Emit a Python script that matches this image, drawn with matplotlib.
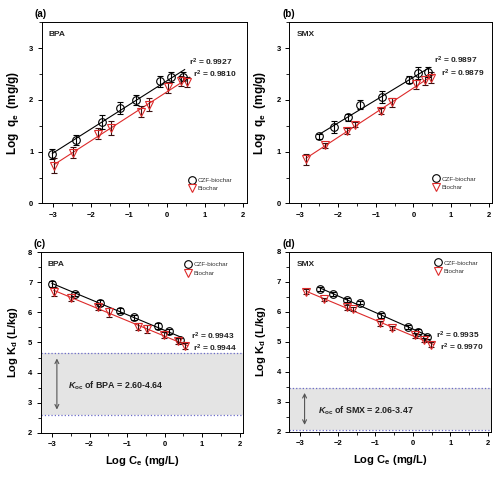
import numpy as np
import matplotlib
matplotlib.use("Agg")
import matplotlib.pyplot as plt
from matplotlib.ticker import MultipleLocator
from matplotlib.lines import Line2D

plt.rcParams['font.family'] = ['Liberation Sans', 'DejaVu Sans']
plt.rcParams['font.weight'] = 'bold'
plt.rcParams['mathtext.fontset'] = 'custom'
plt.rcParams['mathtext.rm'] = 'Liberation Sans:bold'
plt.rcParams['mathtext.it'] = 'Liberation Sans:style=italic:weight=bold'
plt.rcParams['mathtext.bf'] = 'Liberation Sans:bold'

# ---------------- data ----------------
# (a) BPA, log qe
a_czf_x = [-3.02, -2.40, -1.72, -1.23, -0.83, -0.19, 0.10, 0.41]
a_czf_y = [0.95, 1.22, 1.57, 1.84, 2.00, 2.36, 2.44, 2.45]
a_czf_e = [0.10, 0.10, 0.14, 0.12, 0.10, 0.11, 0.09, 0.08]
a_bio_x = [-2.97, -2.49, -1.81, -1.48, -0.70, -0.48, 0.03, 0.36, 0.51]
a_bio_y = [0.73, 0.98, 1.35, 1.46, 1.77, 1.91, 2.24, 2.36, 2.34]
a_bio_e = [0.14, 0.11, 0.10, 0.14, 0.11, 0.12, 0.10, 0.10, 0.10]

# (b) SMX, log qe
b_czf_x = [-2.50, -2.12, -1.74, -1.41, -0.84, -0.13, 0.13, 0.38]
b_czf_y = [1.30, 1.48, 1.66, 1.91, 2.06, 2.39, 2.52, 2.54]
b_czf_e = [0.05, 0.12, 0.06, 0.08, 0.12, 0.07, 0.11, 0.10]
b_bio_x = [-2.85, -2.36, -1.76, -1.56, -0.86, -0.56, 0.06, 0.31, 0.48]
b_bio_y = [0.85, 1.12, 1.40, 1.52, 1.78, 1.95, 2.30, 2.38, 2.43]
b_bio_e = [0.10, 0.05, 0.06, 0.05, 0.06, 0.09, 0.09, 0.09, 0.10]

# (c) BPA, log Kd
c_czf_x = [-3.00, -2.39, -1.71, -1.20, -0.81, -0.18, 0.12, 0.41]
c_czf_y = [6.94, 6.61, 6.31, 6.06, 5.84, 5.56, 5.37, 5.08]
c_czf_e = [0.10, 0.08, 0.10, 0.08, 0.08, 0.10, 0.08, 0.08]
c_bio_x = [-2.95, -2.49, -1.77, -1.47, -0.70, -0.47, -0.01, 0.36, 0.54]
c_bio_y = [6.69, 6.49, 6.17, 6.00, 5.52, 5.45, 5.26, 5.04, 4.88]
c_bio_e = [0.14, 0.11, 0.10, 0.14, 0.11, 0.12, 0.10, 0.10, 0.10]

# (d) SMX, log Kd
d_czf_x = [-2.48, -2.13, -1.75, -1.41, -0.84, -0.12, 0.15, 0.39]
d_czf_y = [6.75, 6.58, 6.38, 6.30, 5.88, 5.50, 5.34, 5.17]
d_czf_e = [0.06, 0.06, 0.06, 0.06, 0.08, 0.07, 0.07, 0.07]
d_bio_x = [-2.85, -2.37, -1.75, -1.59, -0.88, -0.56, 0.06, 0.31, 0.48]
d_bio_y = [6.66, 6.41, 6.14, 6.09, 5.62, 5.46, 5.21, 5.06, 4.90]
d_bio_e = [0.08, 0.06, 0.07, 0.06, 0.08, 0.08, 0.08, 0.08, 0.09]

r2_labels = {
    'a': ('0.9927', '0.9810'),
    'b': ('0.9897', '0.9879'),
    'c': ('0.9943', '0.9944'),
    'd': ('0.9935', '0.9970'),
}
koc_ranges = {'c': (2.60, 4.64), 'd': (2.06, 3.47)}
compounds = {'a': 'BPA', 'b': 'SMX', 'c': 'BPA', 'd': 'SMX'}
series_names = ['CZF-biochar', 'Biochar']

RED = '#dd2a2a'

fig = plt.figure(figsize=(5.03, 4.82), dpi=100)
pos = {
    'a': [0.083, 0.578, 0.408, 0.376],
    'b': [0.575, 0.578, 0.404, 0.376],
    'c': [0.081, 0.102, 0.403, 0.375],
    'd': [0.575, 0.104, 0.402, 0.374],
}

panels = {
    'a': (a_czf_x, a_czf_y, a_czf_e, a_bio_x, a_bio_y, a_bio_e),
    'b': (b_czf_x, b_czf_y, b_czf_e, b_bio_x, b_bio_y, b_bio_e),
    'c': (c_czf_x, c_czf_y, c_czf_e, c_bio_x, c_bio_y, c_bio_e),
    'd': (d_czf_x, d_czf_y, d_czf_e, d_bio_x, d_bio_y, d_bio_e),
}

r2_pos = {
    'a': [(0.58, 2.73), (0.67, 2.49)],
    'b': [(0.55, 2.77), (0.72, 2.52)],
    'c': [(0.69, 5.20), (0.75, 4.80)],
    'd': [(0.62, 5.22), (0.73, 4.80)],
}
leg_anchor = {'a': (0.69, 0.17), 'b': (0.68, 0.178), 'c': (0.685, 0.975), 'd': (0.694, 0.98)}
leg_spacing = {'a': 0.45, 'b': 0.45, 'c': 0.65, 'd': 0.55}

for key in ['a', 'b', 'c', 'd']:
    ax = fig.add_axes(pos[key])
    cx, cy, ce, bx, by, be = panels[key]
    cx, cy, bx, by = map(np.asarray, (cx, cy, bx, by))
    top = key in ('a', 'b')

    if not top:
        lo, hi = koc_ranges[key]
        ax.axhspan(lo, hi, color='#e4e4e4', zorder=0, lw=0)
        for yv in (lo, hi):
            ax.axhline(yv, color='#6a6ac8', ls=':', lw=0.9, zorder=1)
        ax_x = -2.87 if key == 'c' else -2.89
        ax.annotate('', xy=(ax_x, hi - 0.08), xytext=(ax_x, lo + 0.08),
                    arrowprops=dict(arrowstyle='<->', color='#555555', lw=0.8,
                                    mutation_scale=7))
        tx = -2.58 if key == 'c' else -2.54
        ty = (lo + hi) / 2 - 0.05
        ax.text(tx, ty, r'$\mathit{K}_{\mathrm{oc}}$' + f' of {compounds[key]} = {lo:.2f}-{hi:.2f}',
                fontsize=6.4, fontweight='bold', va='center', ha='left', color='#222222')

    # fitted lines
    for xs, ys, col, ext in ((cx, cy, 'black', 0.05), (bx, by, RED, 0.08)):
        p = np.polyfit(xs, ys, 1)
        xl = np.array([xs.min(), xs.max() + ext])
        ax.plot(xl, np.polyval(p, xl), color=col, lw=0.8, zorder=2)

    ax.errorbar(cx, cy, yerr=ce, fmt='o', ms=5.5, mfc='none', mec='black', mew=0.8,
                ecolor='black', elinewidth=0.8, capsize=2, capthick=0.8, zorder=3)
    ax.errorbar(bx, by, yerr=be, fmt='v', ms=6, mfc='none', mec=RED, mew=0.8,
                ecolor='#3a1010', elinewidth=0.8, capsize=2, capthick=0.8, zorder=3)

    ax.set_xlim(-3.3, 2.1)
    ax.xaxis.set_major_locator(MultipleLocator(1))
    ax.xaxis.set_minor_locator(MultipleLocator(0.5))
    ax.yaxis.set_major_locator(MultipleLocator(1))
    ax.yaxis.set_minor_locator(MultipleLocator(0.5))
    if top:
        ax.set_ylim(0, 3.5)
        ax.set_ylabel(r'Log  q$_{\mathrm{e}}$  (mg/g)', fontsize=8.5, fontweight='bold', labelpad=6)
    else:
        ax.set_ylim(2, 8)
        ax.set_ylabel(r'Log K$_{\mathrm{d}}$ (L/kg)', fontsize=8, fontweight='bold', labelpad=6)
        ax.set_xlabel(r'Log C$_{\mathrm{e}}$ (mg/L)', fontsize=8, fontweight='bold', labelpad=4)
    ax.tick_params(which='major', direction='out', length=3, width=0.7, labelsize=5.5, pad=3)
    ax.tick_params(which='minor', direction='out', length=2, width=0.6)
    for lab in ax.get_xticklabels() + ax.get_yticklabels():
        lab.set_fontweight('bold')
    for s in ax.spines.values():
        s.set_linewidth(0.7)

    ax.text(0.035, 0.95, compounds[key], transform=ax.transAxes, fontsize=6,
            fontweight='bold', va='top', ha='left', color='#222222')
    ax.text(-0.035, 1.015, f'({key})', transform=ax.transAxes, fontsize=7,
            fontweight='bold', va='bottom', ha='left')

    (x1, y1), (x2, y2) = r2_pos[key]
    ax.text(x1, y1, r'r$^{2}$ = ' + r2_labels[key][0], fontsize=6, fontweight='bold',
            va='center', ha='left', color='#222222')
    ax.text(x2, y2, r'r$^{2}$ = ' + r2_labels[key][1], fontsize=6, fontweight='bold',
            va='center', ha='left', color='#222222')

    handles = [
        Line2D([], [], ls='none', marker='o', ms=5.5, mfc='none', mec='black', mew=0.8),
        Line2D([], [], ls='none', marker='v', ms=6, mfc='none', mec=RED, mew=0.8),
    ]
    leg = ax.legend(handles, series_names, loc='upper left', bbox_to_anchor=leg_anchor[key],
                    frameon=False, fontsize=4.5, handletextpad=0.3,
                    labelspacing=leg_spacing[key], borderpad=0.3, handlelength=1.2)
    for t in leg.get_texts():
        t.set_fontweight('normal')
        t.set_color('#333333')

fig.savefig('out.png', dpi=100)
